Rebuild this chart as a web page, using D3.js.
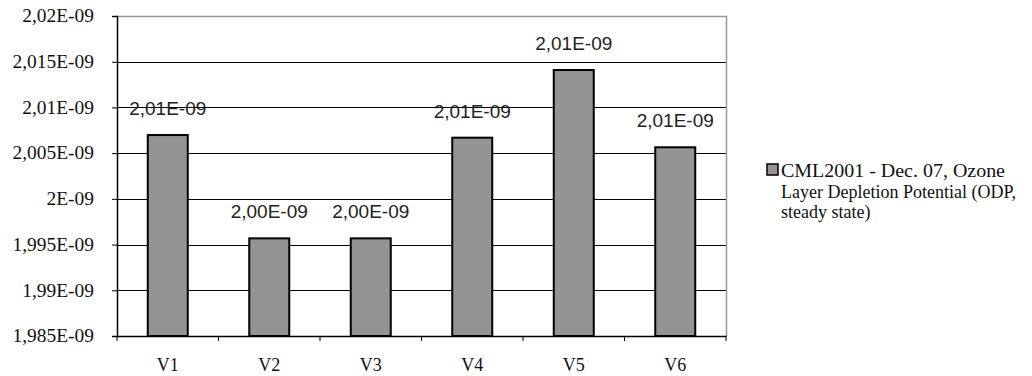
<!DOCTYPE html>
<html><head><meta charset="utf-8">
<script src="https://cdn.jsdelivr.net/npm/d3@7"></script>
<style>body{margin:0;background:#fff}svg{display:block}</style>
</head><body>
<svg id="c" width="1032" height="376"></svg>
<script>
const categories = ["V1","V2","V3","V4","V5","V6"];
const values = [2.00698e-9, 1.99568e-9, 1.99568e-9, 2.00669e-9, 2.01409e-9, 2.00564e-9];
const tickValues = [1.985e-9,1.99e-9,1.995e-9,2e-9,2.005e-9,2.01e-9,2.015e-9,2.02e-9];
const tickLabels = ["1,985E-09","1,99E-09","1,995E-09","2E-09","2,005E-09","2,01E-09","2,015E-09","2,02E-09"];
const seriesName = ["CML2001 - Dec. 07, Ozone","Layer Depletion Potential (ODP,","steady state)"];

const svg = d3.select("#c");
const L=117, R=726, T=16, B=336;
const x = d3.scaleBand().domain(categories).range([L,R]).padding(0);
const y = d3.scaleLinear().domain([1.985e-9,2.02e-9]).range([B,T]);
const serif = "'Liberation Serif','Times New Roman',serif";
const sans = "'Liberation Sans',Arial,sans-serif";

// gridlines
svg.append("g").selectAll("line").data(tickValues.slice(1,-1)).join("line")
  .attr("x1",L).attr("x2",R).attr("y1",d=>Math.round(y(d))+0.5).attr("y2",d=>Math.round(y(d))+0.5)
  .attr("stroke","#000").attr("stroke-width",1);
// top/right border
svg.append("path").attr("d",`M${L},${T+0.5}H${R+0.5}V${B}`).attr("fill","none").attr("stroke","#999").attr("stroke-width",1.5);

// bars
const bw = x.bandwidth()*0.394;
svg.append("g").selectAll("rect").data(values).join("rect")
  .attr("x",(d,i)=>x(categories[i])+x.bandwidth()/2-bw/2)
  .attr("width",bw)
  .attr("y",d=>y(d)).attr("height",d=>B-y(d))
  .attr("fill","#949494").attr("stroke","#000").attr("stroke-width",2);

// data labels
function fmt(v){
  const [m,e]=v.toExponential(2).split("e");
  const ex=parseInt(e,10);
  return m.replace(".",",")+"E"+(ex<0?"-":"+")+String(Math.abs(ex)).padStart(2,"0");
}
svg.append("g").selectAll("text").data(values).join("text")
  .attr("x",(d,i)=>x(categories[i])+x.bandwidth()/2)
  .attr("y",d=>y(d)-20)
  .attr("text-anchor","middle").style("font-family",sans).style("font-size","19px").attr("fill","#222")
  .text(d=>fmt(d));

// y axis
const ya = svg.append("g").attr("transform",`translate(${L},0)`)
  .call(d3.axisLeft(y).tickValues(tickValues).tickFormat((d,i)=>tickLabels[i]).tickSize(5).tickPadding(18));
ya.attr("font-family",null).attr("font-size",null);
ya.select(".domain").attr("stroke","#000").attr("stroke-width",1.5);
ya.selectAll(".tick line").attr("stroke","#000");
ya.selectAll("text").style("font-family",serif).style("font-size","18px").attr("fill","#111")
  .each(function(){const l=this.getComputedTextLength();d3.select(this).attr("textLength",l*1.08).attr("lengthAdjust","spacingAndGlyphs");});

// x axis
const xa = svg.append("g").attr("transform",`translate(0,${B})`)
  .call(d3.axisBottom(x).tickSize(0).tickPadding(22));
xa.attr("font-family",null).attr("font-size",null);
xa.select(".domain").attr("stroke","#000").attr("stroke-width",1.5);
xa.selectAll("text").style("font-family",serif).style("font-size","18px").attr("fill","#111");
svg.append("g").selectAll("line").data(d3.range(categories.length+1)).join("line")
  .attr("x1",i=>L+i*x.step()).attr("x2",i=>L+i*x.step()).attr("y1",B).attr("y2",B+5)
  .attr("stroke","#000").attr("stroke-width",1);

// legend
svg.append("rect").attr("x",767).attr("y",164).attr("width",11).attr("height",11)
  .attr("fill","#949494").attr("stroke","#000").attr("stroke-width",1.5);
svg.append("g").selectAll("text").data(seriesName).join("text")
  .attr("x",781).attr("y",(d,i)=>177+i*20.5)
  .style("font-family",serif).style("font-size","18px").attr("fill","#111").text(d=>d)
  .each(function(d,i){ if(i===0){const l=this.getComputedTextLength();d3.select(this).attr("textLength",Math.max(l,224)).attr("lengthAdjust","spacingAndGlyphs");}});
</script>
</body></html>
